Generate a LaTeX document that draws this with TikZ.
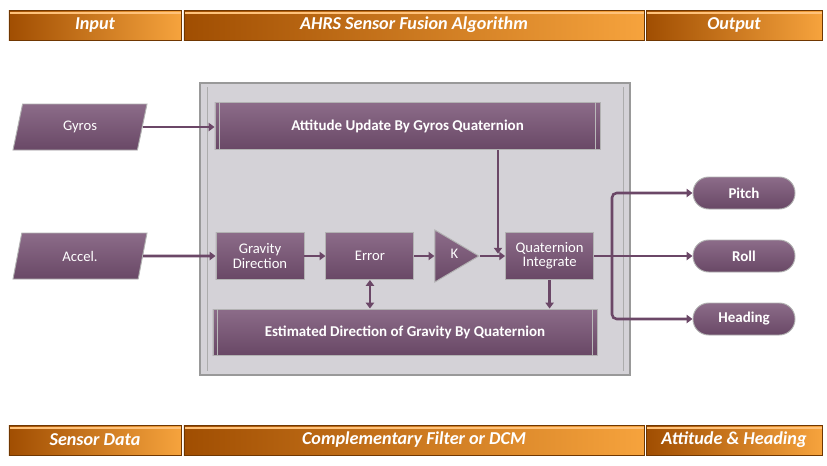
\documentclass[tikz,border=0pt]{standalone}
\usepackage{fontspec}
\setmainfont{Carlito}
\usepackage{tikz}
\usetikzlibrary{positioning}
\usetikzlibrary{shapes.geometric, arrows.meta}
\definecolor{plum}{HTML}{7A5A77}
\definecolor{plumlight}{HTML}{8C6C89}
\definecolor{plumdark}{HTML}{694866}
\definecolor{plumline}{HTML}{6B4767}
\definecolor{barleft}{HTML}{A04E02}
\definecolor{barright}{HTML}{F6A33D}
\definecolor{bartop}{HTML}{FFC27A}
\definecolor{panelgray}{HTML}{D4D2D7}
\tikzstyle{bar} = [rectangle, minimum height=0.9cm, left color=barleft, right color=barright, draw=barleft!70!black, line width=0.6pt, text=white, font=\fontsize{15.5}{18}\selectfont\bfseries\itshape, path picture={\draw[bartop, line width=1.4pt] ([yshift=-2.5pt]path picture bounding box.north west) -- ([yshift=-2.5pt]path picture bounding box.north east);}]
\tikzstyle{block} = [rectangle, top color=plumlight, bottom color=plumdark, draw=gray!60, line width=0.8pt, text=white, align=center, font=\fontsize{12.5}{13}\selectfont, minimum width=2.64cm, minimum height=1.41cm]
\tikzstyle{wide} = [block, font=\fontsize{12.8}{14}\selectfont\bfseries, minimum height=1.42cm]
\tikzstyle{sensor} = [trapezium, trapezium left angle=64, trapezium right angle=116, trapezium stretches body, top color=plumlight, bottom color=plumdark, draw=gray!60, line width=0.8pt, text=white, font=\fontsize{12.5}{14}\selectfont, minimum width=4.02cm, minimum height=1.38cm]
\tikzstyle{result} = [rectangle, rounded corners=0.47cm, top color=plumlight, bottom color=plumdark, draw=gray!60, line width=0.8pt, text=white, font=\fontsize{12.8}{14}\selectfont\bfseries, minimum width=3.06cm, minimum height=0.96cm]
\tikzstyle{arrow} = [line width=2.2pt, draw=plumline, -{Triangle[length=5pt, width=7pt]}]
\tikzstyle{twoway} = [line width=2.2pt, draw=plumline, {Triangle[length=5pt, width=7pt]}-{Triangle[length=5pt, width=7pt]}]

\begin{document}
\begin{tikzpicture}[x=0.03cm, y=-0.03cm, node distance=1cm]
    \useasboundingbox (0,0) rectangle (827,465);
    % header and footer bars
    \node(input)[bar, minimum width=5.16cm] at (95,25) {Input};
    \node(ahrs)[bar, minimum width=13.8cm] at (414,25) {AHRS Sensor Fusion Algorithm};
    \node(output)[bar, minimum width=5.28cm] at (734,25) {Output};
    \node(sdata)[bar, minimum width=5.16cm] at (95,440) {Sensor Data};
    \node(cfilter)[bar, minimum width=13.8cm] at (414,440) {Complementary Filter or DCM};
    \node(atthead)[bar, minimum width=5.28cm] at (734,440) {Attitude \& Heading};
    %
    % algorithm panel
    \draw[fill=panelgray, draw=gray!80, line width=1.6pt] (200,83) rectangle (630,375);
    \draw[gray!65, line width=0.8pt] (207,87) -- (207,371);
    \draw[gray!65, line width=0.8pt] (623,87) -- (623,371);
    %
    \node(gyros)[sensor] at (80,127) {Gyros};
    \node(accel)[sensor] at (80,256) {Accel.};
    \node(att)[wide, minimum width=11.55cm] at (407.5,126) {Attitude Update By Gyros Quaternion};
    \node(est)[wide, minimum width=11.52cm, minimum height=1.38cm] at (405,332) {Estimated Direction of Gravity By Quaternion};
    \node(grav)[block] at (260,256) {Gravity\\[-1pt]Direction};
    \node(err)[block, right=0.63cm of grav] {Error};
    \node(k)[isosceles triangle, isosceles triangle stretches, top color=plumlight, bottom color=plumdark, draw=gray!60, line width=0.8pt, minimum width=1.56cm, minimum height=1.32cm, inner sep=0pt, right=0.6cm of err] {};
    \node[text=white, font=\fontsize{12.5}{14}\selectfont] at ([xshift=0.6cm, yshift=2pt]k.west) {K};
    \node(quat)[block, right=0.75cm of k] {Quaternion\\[-1pt]Integrate};
    \foreach \n in {att, est} {
        \draw[gray!55, line width=0.8pt] ([xshift=4pt]\n.north west) -- ([xshift=4pt]\n.south west);
        \draw[gray!55, line width=0.8pt] ([xshift=-4pt]\n.north east) -- ([xshift=-4pt]\n.south east);
    }
    %
    \node(pitch)[result] at (744,193) {Pitch};
    \node(roll)[result] at (744,256) {Roll};
    \node(heading)[result] at (744,319) {Heading};
    %
    % connectors
    \coordinate (join) at (498,256);
    \coordinate (split) at (612,256);
    \draw[arrow] (gyros.east) -- (gyros.east -| att.west);
    \draw[arrow] (accel.east) -- (grav.west);
    \draw[arrow] (grav) -- (err);
    \draw[arrow] (err) -- (k.west);
    \draw[arrow] (k.east) -- (quat.west);
    \draw[arrow] (att.south -| join) -- ([yshift=2pt]join);
    \draw[twoway] (err.south) -- (err.south |- est.north);
    \draw[arrow] (quat.south) -- (quat.south |- est.north);
    \draw[arrow] (quat.east) -- (roll.west);
    \draw[arrow, rounded corners=4pt] (split) |- (pitch.west);
    \draw[arrow, rounded corners=4pt] (split) |- (heading.west);
\end{tikzpicture}
\end{document}
